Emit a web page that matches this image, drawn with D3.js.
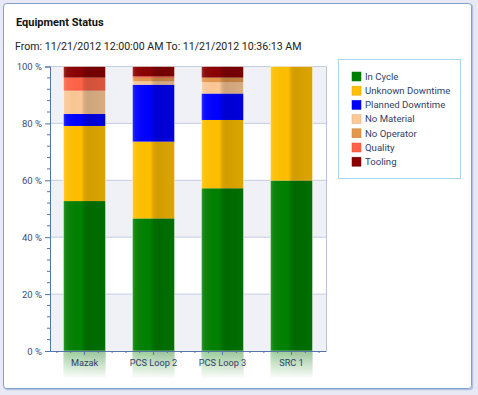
<!DOCTYPE html>
<html lang="en">
<head>
<meta charset="UTF-8">
<title>Equipment Status</title>
<script src="https://d3js.org/d3.v7.min.js"></script>
<style>
  body { margin: 0; background: #e9e9f5; }
  svg { display: block; font-family: Roboto, "Open Sans", sans-serif; }
</style>
</head>
<body>
<div id="chart"></div>
<script>
    // chart data (percent of time)
    const categories = ["Mazak", "PCS Loop 2", "PCS Loop 3", "SRC 1"];
    const seriesNames = ["In Cycle", "Unknown Downtime", "Planned Downtime", "No Material", "No Operator", "Quality", "Tooling"];
    const seriesColors = ["#008000", "#ffbf00", "#0000ff", "#fbc896", "#e3964c", "#ff6347", "#8b0000"];
    const inCycle = [52.7, 46.6, 57.2, 59.9];
    const unknownDowntime = [26.4, 27.0, 24.0, 40.1];
    const plannedDowntime = [4.2, 20.0, 9.3, 0];
    const noMaterial = [8.2, 1.2, 4.0, 0];
    const noOperator = [0, 1.2, 1.6, 0];
    const quality = [4.6, 0.5, 0, 0];
    const tooling = [3.9, 3.5, 3.9, 0];
    const yTicks = [0, 20, 40, 60, 80, 100];

    const seriesValues = [inCycle, unknownDowntime, plannedDowntime, noMaterial, noOperator, quality, tooling];

    const width = 478, height = 395;
    const plot = { left: 50, right: 326, top: 66.5, bottom: 351 };

    const svg = d3.select("#chart").append("svg")
        .attr("width", width)
        .attr("height", height);

    const defs = svg.append("defs");

    // panel
    svg.append("rect")
        .attr("x", 4.5).attr("y", 4.5)
        .attr("width", 468).attr("height", 385)
        .attr("rx", 3)
        .attr("fill", "none")
        .attr("stroke", "#b4c3e0")
        .attr("stroke-width", 1.5);
    svg.append("rect")
        .attr("x", 3.5).attr("y", 3.5)
        .attr("width", 468).attr("height", 385)
        .attr("rx", 3)
        .attr("fill", "#ffffff")
        .attr("stroke", "#809fcc");

    // titles
    svg.append("text")
        .attr("x", 16).attr("y", 26)
        .attr("font-size", "11px")
        .attr("font-weight", "bold")
        .attr("fill", "#111")
        .text("Equipment Status");
    svg.append("text")
        .attr("x", 15).attr("y", 49.5)
        .attr("font-size", "10.6px")
        .attr("fill", "#222")
        .text("From: 11/21/2012 12:00:00 AM To: 11/21/2012 10:36:13 AM");

    // scales
    const x = d3.scaleBand()
        .domain(categories)
        .range([plot.left, plot.right])
        .paddingInner(0.39)
        .paddingOuter(0.195);

    const y = d3.scaleLinear()
        .domain([0, 100])
        .range([plot.bottom, plot.top]);

    // alternating plot bands
    const bands = d3.pairs(yTicks);
    svg.append("g")
        .selectAll("rect")
        .data(bands)
        .join("rect")
        .attr("x", plot.left)
        .attr("width", plot.right - plot.left)
        .attr("y", d => y(d[1]))
        .attr("height", d => y(d[0]) - y(d[1]))
        .attr("fill", (d, i) => i % 2 === 0 ? "#eff1f7" : "#ffffff");

    // grid lines
    svg.append("g")
        .selectAll("line")
        .data(yTicks.slice(1))
        .join("line")
        .attr("x1", plot.left).attr("x2", plot.right)
        .attr("y1", d => y(d)).attr("y2", d => y(d))
        .attr("stroke", "#c3cee2");
    svg.append("line")
        .attr("x1", plot.right + 0.5).attr("x2", plot.right + 0.5)
        .attr("y1", plot.top).attr("y2", plot.bottom)
        .attr("stroke", "#b8c4da");

    // bar shading: lighter left half, darker right half
    const shade = defs.append("linearGradient")
        .attr("id", "shade")
        .attr("x1", "0").attr("x2", "1").attr("y1", "0").attr("y2", "0");
    [[0, "#fff", 0.18], [0.08, "#fff", 0.05], [0.42, "#000", 0.0], [0.5, "#000", 0.14], [0.58, "#000", 0.18], [1, "#000", 0.14]]
        .forEach(s => shade.append("stop").attr("offset", s[0]).attr("stop-color", s[1]).attr("stop-opacity", s[2]));

    // reflection fade
    const fade = defs.append("linearGradient")
        .attr("id", "fade")
        .attr("x1", "0").attr("x2", "0").attr("y1", "0").attr("y2", "1");
    fade.append("stop").attr("offset", 0).attr("stop-color", "#fff").attr("stop-opacity", 0.6);
    fade.append("stop").attr("offset", 1).attr("stop-color", "#fff").attr("stop-opacity", 1);

    // stack
    const table = categories.map((c, i) => {
        const row = { category: c };
        seriesNames.forEach((s, j) => row[s] = seriesValues[j][i]);
        return row;
    });
    const stacked = d3.stack().keys(seriesNames)(table);
    const color = d3.scaleOrdinal().domain(seriesNames).range(seriesColors);

    // reflection under the axis
    const reflect = svg.append("g");
    reflect.selectAll("rect.refl")
        .data(table)
        .join("rect")
        .attr("class", "refl")
        .attr("x", d => x(d.category))
        .attr("width", x.bandwidth())
        .attr("y", plot.bottom)
        .attr("height", 27)
        .attr("fill", color(seriesNames[0]));
    reflect.selectAll("rect.reflshade")
        .data(table)
        .join("rect")
        .attr("class", "reflshade")
        .attr("x", d => x(d.category))
        .attr("width", x.bandwidth())
        .attr("y", plot.bottom)
        .attr("height", 27)
        .attr("fill", "url(#shade)");
    reflect.selectAll("rect.reflfade")
        .data(table)
        .join("rect")
        .attr("class", "reflfade")
        .attr("x", d => x(d.category) - 1)
        .attr("width", x.bandwidth() + 2)
        .attr("y", plot.bottom)
        .attr("height", 28)
        .attr("fill", "url(#fade)");

    // bars
    const barG = svg.append("g");
    barG.selectAll("g")
        .data(stacked)
        .join("g")
        .attr("fill", d => color(d.key))
        .selectAll("rect")
        .data(d => d.filter(p => p[1] - p[0] > 0))
        .join("rect")
        .attr("x", d => x(d.data.category))
        .attr("width", x.bandwidth())
        .attr("y", d => y(d[1]))
        .attr("height", d => y(d[0]) - y(d[1]));

    barG.selectAll("rect.shade")
        .data(table)
        .join("rect")
        .attr("class", "shade")
        .attr("x", d => x(d.category))
        .attr("width", x.bandwidth())
        .attr("y", y(100))
        .attr("height", y(0) - y(100))
        .attr("fill", "url(#shade)")
        .attr("stroke", "rgba(255,255,255,0.6)")
        .attr("stroke-width", 0.8);

    // y axis
    const axisColor = "#5574a8";
    const minorY = d3.range(0, 101, 4).filter(v => v % 20 !== 0);
    svg.append("g")
        .attr("transform", `translate(${plot.left},0)`)
        .selectAll("line")
        .data(minorY)
        .join("line")
        .attr("x1", -3).attr("x2", 0)
        .attr("y1", d => y(d)).attr("y2", d => y(d))
        .attr("stroke", axisColor);

    const yAxis = svg.append("g")
        .attr("transform", `translate(${plot.left},0)`)
        .call(d3.axisLeft(y).tickValues(yTicks).tickFormat(d => d + " %").tickSize(5).tickPadding(3));
    yAxis.select(".domain").attr("stroke", axisColor);
    yAxis.selectAll(".tick line").attr("stroke", axisColor);
    yAxis.selectAll(".tick text")
        .attr("fill", "#3c4c74")
        .attr("font-size", "9.5px")
        .attr("font-family", "Roboto, sans-serif");

    // x axis
    const xIdx = d3.scaleLinear().domain([-0.5, categories.length - 0.5]).range([plot.left, plot.right]);
    const minorX = d3.range(-2, categories.length * 5 - 2).map(k => k / 5).filter(v => Math.abs(v - Math.round(v)) > 1e-6);
    svg.append("g")
        .attr("transform", `translate(0,${plot.bottom})`)
        .selectAll("line")
        .data(minorX)
        .join("line")
        .attr("x1", d => xIdx(d)).attr("x2", d => xIdx(d))
        .attr("y1", 0).attr("y2", 2)
        .attr("stroke", axisColor);

    const xAxis = svg.append("g")
        .attr("transform", `translate(0,${plot.bottom})`)
        .call(d3.axisBottom(x).tickSize(4).tickSizeOuter(0).tickPadding(4));
    xAxis.select(".domain").attr("stroke", axisColor);
    xAxis.selectAll(".tick line").attr("stroke", axisColor);
    xAxis.selectAll(".tick text")
        .attr("fill", "#2e3f6a")
        .attr("font-size", "9.2px")
        .attr("font-family", "Roboto, sans-serif");

    // legend
    svg.append("rect")
        .attr("x", 338.5).attr("y", 59.5)
        .attr("width", 122).attr("height", 119)
        .attr("fill", "#fff")
        .attr("stroke", "#a9d6ee");

    const legend = svg.append("g")
        .selectAll("g")
        .data(seriesNames)
        .join("g")
        .attr("transform", (d, i) => `translate(352,${76.5 + i * 14.2})`);
    legend.append("rect")
        .attr("x", 0).attr("y", -4.5)
        .attr("width", 9).attr("height", 9)
        .attr("fill", d => color(d))
        .attr("stroke", d => d3.color(color(d)).darker(0.4))
        .attr("stroke-width", 0.5);
    legend.append("text")
        .attr("x", 13)
        .attr("dy", "0.35em")
        .attr("font-size", "9.6px")
        .attr("fill", "#2e3f6a")
        .text(d => d);
</script>
</body>
</html>
